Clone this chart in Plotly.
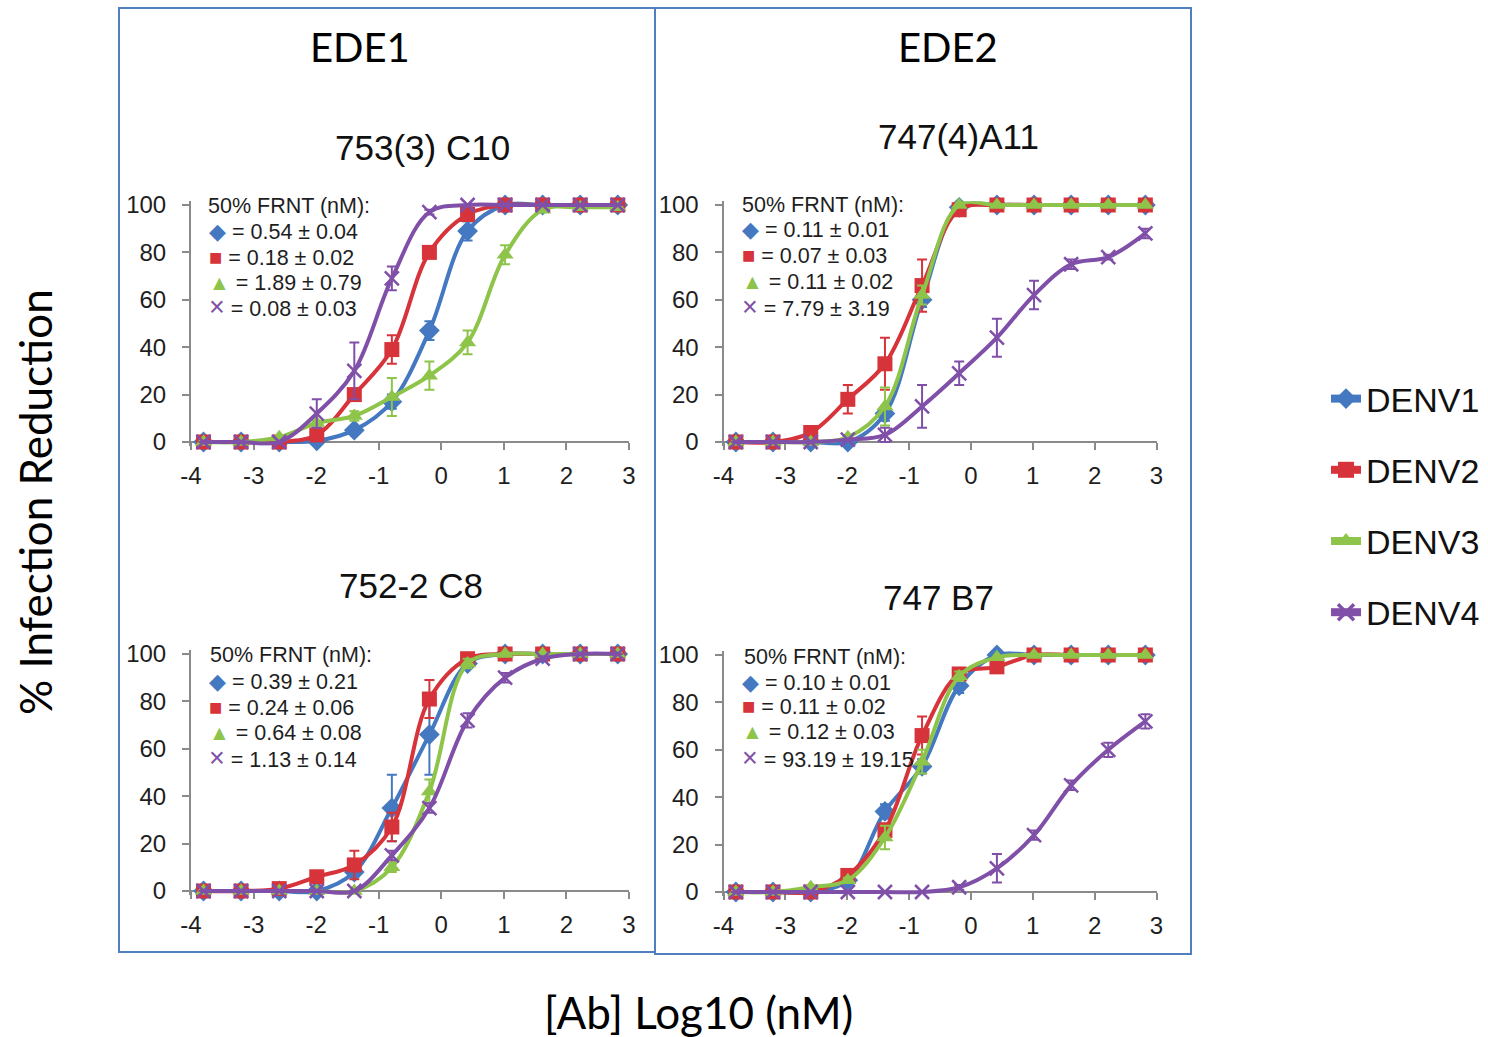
import plotly.graph_objects as go

W, H = 1488, 1037

# ---------------- data ----------------
log_conc = [-3.80, -3.20, -2.59, -1.99, -1.39, -0.79, -0.19, 0.42, 1.02, 1.62, 2.22, 2.82]

series_names = ["DENV1", "DENV2", "DENV3", "DENV4"]
colors = ["#4478C1", "#D7333A", "#8DC449", "#8050A8"]
symbols = ["diamond", "square", "triangle-up", "x-thin"]
glyphs = ["\u25C6", "\u25A0", "\u25B2", "\u00D7"]

panel_titles = ["753(3) C10", "747(4)A11", "752-2 C8", "747 B7"]
group_titles = ["EDE1", "EDE2"]

# 753(3) C10
a_d1 = [0, 0, 0, 0.5, 5, 17, 47, 89, 100, 100, 100, 100]
a_d1_err = [0, 0, 0, 0, 1, 3, 4, 4, 0, 0, 0, 0]
a_d2 = [0, 0, 0, 3, 20, 39, 80, 96, 100, 100, 100, 100]
a_d2_err = [0, 0, 0, 1, 2, 6, 2, 2, 0, 0, 0, 0]
a_d3 = [0, 0, 2, 8, 11, 19, 28, 42, 79, 98, 99, 99]
a_d3_err = [0, 0, 0, 1, 2, 8, 6, 5, 4, 1, 0, 0]
a_d4 = [0, 0, 0, 12, 30, 69, 97, 100, 100, 100, 100, 100]
a_d4_err = [0, 0, 0, 6, 12, 5, 1, 0, 0, 0, 0, 0]
a_frnt = ["0.54 \u00B1 0.04", "0.18 \u00B1 0.02", "1.89 \u00B1 0.79", "0.08 \u00B1 0.03"]

# 747(4)A11
b_d1 = [0, 0, 0, 0, 12, 60, 99, 100, 100, 100, 100, 100]
b_d1_err = [0, 0, 0, 0, 3, 3, 0, 0, 0, 0, 0, 0]
b_d2 = [0, 0, 4, 18, 33, 66, 98, 100, 100, 100, 100, 100]
b_d2_err = [0, 0, 1, 6, 11, 11, 1, 0, 0, 0, 0, 0]
b_d3 = [0, 0, 0, 2, 15, 62, 100, 100, 100, 100, 100, 100]
b_d3_err = [0, 0, 0, 1, 8, 4, 0, 0, 0, 0, 0, 0]
b_d4 = [0, 0, 0, 1, 3, 15, 29, 44, 62, 75, 78, 88]
b_d4_err = [0, 0, 0, 0, 3, 9, 5, 8, 6, 2, 1, 2]
b_frnt = ["0.11 \u00B1 0.01", "0.07 \u00B1 0.03", "0.11 \u00B1 0.02", "7.79 \u00B1 3.19"]

# 752-2 C8
c_d1 = [0, 0, 0, 0, 8, 35, 66, 96, 100, 100, 100, 100]
c_d1_err = [0, 0, 0, 0, 2, 14, 17, 1, 0, 0, 0, 0]
c_d2 = [0, 0, 1, 6, 11, 27, 81, 98, 100, 100, 100, 100]
c_d2_err = [0, 0, 0, 1, 6, 6, 8, 1, 0, 0, 0, 0]
c_d3 = [0, 0, 0, 0, 0, 10, 42, 96, 100, 100, 100, 100]
c_d3_err = [0, 0, 0, 0, 0, 2, 5, 2, 0, 0, 0, 0]
c_d4 = [0, 0, 0, 0, 0, 15, 35, 72, 90, 98, 100, 100]
c_d4_err = [0, 0, 0, 0, 0, 2, 2, 3, 2, 1, 0, 0]
c_frnt = ["0.39 \u00B1 0.21", "0.24 \u00B1 0.06", "0.64 \u00B1 0.08", "1.13 \u00B1 0.14"]

# 747 B7
d_d1 = [0, 0, 0, 5, 34, 53, 87, 100, 100, 100, 100, 100]
d_d1_err = [0, 0, 0, 1, 3, 3, 3, 0, 0, 0, 0, 0]
d_d2 = [0, 0, 0, 7, 26, 66, 92, 95, 100, 100, 100, 100]
d_d2_err = [0, 0, 0, 1, 3, 8, 2, 2, 0, 0, 0, 0]
d_d3 = [0, 0, 2, 5, 23, 55, 91, 99, 100, 100, 100, 100]
d_d3_err = [0, 0, 0, 1, 5, 5, 2, 0, 0, 0, 0, 0]
d_d4 = [0, 0, 0, 0, 0, 0, 2, 10, 24, 45, 60, 72]
d_d4_err = [0, 0, 0, 0, 0, 0, 1, 6, 2, 2, 3, 3]
d_frnt = ["0.10 \u00B1 0.01", "0.11 \u00B1 0.02", "0.12 \u00B1 0.03", "93.19 \u00B1 19.15"]

x_ticks = [-4, -3, -2, -1, 0, 1, 2, 3]
y_ticks = [0, 20, 40, 60, 80, 100]

panels = [
    dict(vals=[a_d1, a_d2, a_d3, a_d4], errs=[a_d1_err, a_d2_err, a_d3_err, a_d4_err], frnt=a_frnt),
    dict(vals=[b_d1, b_d2, b_d3, b_d4], errs=[b_d1_err, b_d2_err, b_d3_err, b_d4_err], frnt=b_frnt),
    dict(vals=[c_d1, c_d2, c_d3, c_d4], errs=[c_d1_err, c_d2_err, c_d3_err, c_d4_err], frnt=c_frnt),
    dict(vals=[d_d1, d_d2, d_d3, d_d4], errs=[d_d1_err, d_d2_err, d_d3_err, d_d4_err], frnt=d_frnt),
]

# ---------------- layout geometry (pixels) ----------------
geom = [
    dict(x0=191, x1=629, ytop=205, ybot=442),
    dict(x0=723.5, x1=1156.5, ytop=205, ybot=442),
    dict(x0=191, x1=629, ytop=654, ybot=891),
    dict(x0=723.5, x1=1156.5, ytop=655, ybot=892),
]
title_pos = [(422, 148), (958, 137), (411, 585), (938, 597)]
frnt_pos = [
    dict(hx=206, sx=207, yc=[206, 231.5, 257, 282.5, 307.5]),
    dict(hx=740, sx=740, yc=[205, 230, 256, 281.5, 307.5]),
    dict(hx=208, sx=207, yc=[655, 681.5, 707, 732.5, 758]),
    dict(hx=742, sx=740, yc=[656.5, 682, 706.5, 731.5, 757.5]),
]

PAD = 1.6
yr = [-PAD, 100 + PAD]

def px2x(p):
    return p / W

def px2y(p):
    return 1 - p / H

fig = go.Figure()

axis_color = "#8A8A8A"
tick_font = dict(family="Liberation Sans, Arial, sans-serif", size=24, color="#1E1E1E")

layout_axes = {}
for i, (p, g) in enumerate(zip(panels, geom)):
    n = i + 1
    xa = "x" if n == 1 else f"x{n}"
    ya = "y" if n == 1 else f"y{n}"
    ppu = (g["ybot"] - g["ytop"]) / 100.0
    dom_top = g["ytop"] - PAD * ppu
    dom_bot = g["ybot"] + PAD * ppu
    layout_axes["xaxis" if n == 1 else f"xaxis{n}"] = dict(
        domain=[px2x(g["x0"]), px2x(g["x1"])],
        range=[-4, 3],
        anchor="free",
        position=px2y(g["ybot"]),
        showline=True, linecolor=axis_color, linewidth=2,
        ticks="outside", ticklen=7, tickwidth=2, tickcolor=axis_color,
        tickvals=x_ticks, ticktext=[str(t) for t in x_ticks],
        showgrid=False, zeroline=False, tickfont=tick_font,
        ticklabelstandoff=5,
        layer="below traces", fixedrange=True, automargin=False,
    )
    layout_axes["yaxis" if n == 1 else f"yaxis{n}"] = dict(
        domain=[px2y(dom_bot), px2y(dom_top)],
        range=yr,
        anchor=xa,
        showline=True, linecolor=axis_color, linewidth=2,
        ticks="outside", ticklen=7, tickwidth=2, tickcolor=axis_color,
        tickvals=y_ticks, ticktext=[str(t) for t in y_ticks],
        showgrid=False, zeroline=False, tickfont=tick_font,
        ticklabelstandoff=11,
        layer="below traces", fixedrange=True, automargin=False,
    )
    for k in range(4):
        mk = dict(symbol=symbols[k], color=colors[k], size=[16, 15, 15, 14][k])
        if symbols[k] == "x-thin":
            mk.update(line=dict(color=colors[k], width=2.5))
        fig.add_trace(go.Scatter(
            x=log_conc, y=p["vals"][k],
            mode="lines+markers",
            line=dict(color=colors[k], width=4, shape="spline", smoothing=1.0),
            marker=mk,
            error_y=dict(type="data", array=p["errs"][k], visible=True,
                         color=colors[k], thickness=2, width=5),
            cliponaxis=False,
            showlegend=False,
            name=series_names[k],
            xaxis=xa, yaxis=ya,
        ))

# legend-only traces
for k in range(4):
    mk = dict(symbol=symbols[k], color=colors[k], size=16)
    if symbols[k] == "x-thin":
        mk.update(line=dict(color=colors[k], width=3.5))
    fig.add_trace(go.Scatter(
        x=[None], y=[None], mode="lines+markers",
        line=dict(color=colors[k], width=8),
        marker=mk, name=series_names[k], legendgroup=series_names[k],
        showlegend=True, xaxis="x", yaxis="y",
    ))

annotations = []
title_font = dict(family="Liberation Sans, Arial, sans-serif", size=35, color="#111111")
for t, (tx, ty) in zip(panel_titles, title_pos):
    annotations.append(dict(text=t, x=px2x(tx), y=px2y(ty), xref="paper", yref="paper",
                            xanchor="center", yanchor="middle", showarrow=False, font=title_font))

group_font = dict(family="Lato, Carlito, sans-serif", size=40, color="#000000")
for t, gx in zip(group_titles, [360, 948]):
    annotations.append(dict(text=t, x=px2x(gx), y=px2y(47), xref="paper", yref="paper",
                            xanchor="center", yanchor="middle", showarrow=False, font=group_font))

frnt_font = dict(family="Liberation Sans, Arial, sans-serif", size=21.5, color="#1E1E1E")
glyph_sizes = [22, 22, 21, 27]
for p, fp in zip(panels, frnt_pos):
    annotations.append(dict(text="50% FRNT (nM):", x=px2x(fp["hx"]), y=px2y(fp["yc"][0]),
                            xref="paper", yref="paper", xanchor="left", yanchor="middle",
                            showarrow=False, font=frnt_font))
    for k in range(4):
        txt = (f"<span style='color:{colors[k]};font-size:{glyph_sizes[k]}px'>{glyphs[k]}</span>"
               f" = {p['frnt'][k]}")
        annotations.append(dict(text=txt, x=px2x(fp["sx"]), y=px2y(fp["yc"][k + 1]),
                                xref="paper", yref="paper", xanchor="left", yanchor="middle",
                                showarrow=False, font=frnt_font))

axis_title_font = dict(family="Lato, Carlito, sans-serif", size=44, color="#000000")
annotations.append(dict(text="% Infection Reduction", x=px2x(35), y=px2y(502), xref="paper", yref="paper",
                        xanchor="center", yanchor="middle", showarrow=False, textangle=-90,
                        font=axis_title_font))
annotations.append(dict(text="[Ab] Log10 (nM)", x=px2x(698), y=px2y(1012), xref="paper", yref="paper",
                        xanchor="center", yanchor="middle", showarrow=False, font=axis_title_font))

box_color = "#4F7EC1"
shapes = [
    dict(type="rect", xref="paper", yref="paper", x0=px2x(119), x1=px2x(655), y0=px2y(952), y1=px2y(8),
         line=dict(color=box_color, width=2), fillcolor="rgba(0,0,0,0)", layer="below"),
    dict(type="rect", xref="paper", yref="paper", x0=px2x(655), x1=px2x(1191), y0=px2y(954), y1=px2y(8),
         line=dict(color=box_color, width=2), fillcolor="rgba(0,0,0,0)", layer="below"),
]

fig.update_layout(
    width=W, height=H, autosize=False,
    margin=dict(l=0, r=0, t=0, b=0, pad=0, autoexpand=False),
    paper_bgcolor="white", plot_bgcolor="rgba(0,0,0,0)",
    showlegend=True,
    legend=dict(x=px2x(1326), y=px2y(370), xanchor="left", yanchor="top",
                font=dict(family="Liberation Sans, Arial, sans-serif", size=34, color="#111111"),
                tracegroupgap=24, itemsizing="trace", bgcolor="rgba(0,0,0,0)"),
    annotations=annotations,
    shapes=shapes,
    **layout_axes,
)

fig.write_html(
    "out.html",
    config={"responsive": False, "displayModeBar": False},
    post_script="document.body.style.margin='0';document.body.style.overflow='hidden';",
)
